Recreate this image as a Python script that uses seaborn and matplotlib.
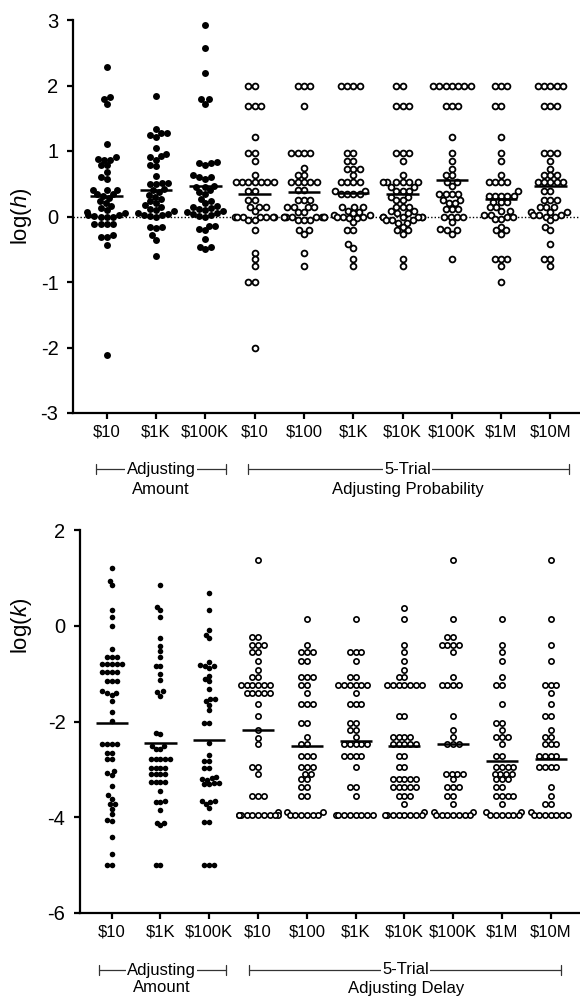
import warnings
import numpy as np
import pandas as pd
import seaborn as sns
import matplotlib.pyplot as plt
import matplotlib.transforms as mtransforms

warnings.filterwarnings('ignore')

# x tick labels
amount_labels = ['$10', '$1K', '$100K']
adjust_labels = ['$10', '$100', '$1K', '$10K', '$100K', '$1M', '$10M']

# ---- top panel: log(h) ----
h_amt_10 = [2.28, 1.82, 1.79, 1.71, 1.10, 0.91, 0.88, 0.87, 0.86, 0.78, 0.78, 0.68,
            0.60, 0.58, 0.41, 0.41, 0.41, 0.35, 0.35, 0.32, 0.28, 0.24, 0.20, 0.16,
            0.13, 0.10, 0.07, 0.05, 0.03, 0.02, 0.01, 0.00, 0.00, -0.01,
            -0.11, -0.11, -0.11, -0.11, -0.29, -0.31, -0.32, -0.43, -2.12]
h_amt_1k = [1.84, 1.33, 1.28, 1.27, 1.24, 1.22, 1.04, 0.96, 0.93, 0.91, 0.87, 0.78,
            0.77, 0.62, 0.51, 0.51, 0.50, 0.49, 0.42, 0.40, 0.37, 0.33, 0.30, 0.27,
            0.24, 0.21, 0.18, 0.15, 0.12, 0.10, 0.08, 0.06, 0.04, 0.03, 0.02, 0.01,
            0.00, -0.16, -0.17, -0.16, -0.29, -0.36, -0.60]
h_amt_100k = [2.92, 2.57, 2.19, 1.79, 1.79, 1.72, 0.83, 0.82, 0.81, 0.78, 0.63, 0.60,
              0.60, 0.58, 0.47, 0.45, 0.45, 0.40, 0.37, 0.35, 0.27, 0.24, 0.20, 0.16,
              0.14, 0.13, 0.12, 0.10, 0.08, 0.07, 0.05, 0.04, 0.02, 0.01, 0.00,
              -0.14, -0.14, -0.19, -0.21, -0.34, -0.46, -0.46, -0.50]

h_prob_10 = [2.0, 2.0, 1.68, 1.68, 1.68, 1.21, 0.97, 0.97, 0.84, 0.63, 0.52, 0.52,
             0.52, 0.52, 0.52, 0.52, 0.52, 0.39, 0.39, 0.25, 0.25, 0.14, 0.14, 0.14,
             0.08, 0.0, 0.0, 0.0, 0.0, 0.0, 0.0, 0.0, -0.05, -0.05, -0.21, -0.55,
             -0.65, -0.75, -1.0, -1.0, -2.0]
h_prob_100 = [2.0, 2.0, 2.0, 1.68, 0.97, 0.97, 0.97, 0.97, 0.74, 0.63, 0.63, 0.52,
              0.52, 0.52, 0.52, 0.52, 0.40, 0.40, 0.25, 0.25, 0.25, 0.14, 0.14, 0.14,
              0.14, 0.07, 0.07, 0.0, 0.0, 0.0, 0.0, 0.0, 0.0, 0.0, 0.0, -0.05, -0.05,
              -0.05, -0.20, -0.20, -0.26, -0.55, -0.75]
h_prob_1k = [2.0, 2.0, 2.0, 2.0, 0.97, 0.97, 0.84, 0.84, 0.73, 0.73, 0.73, 0.63,
             0.52, 0.52, 0.52, 0.52, 0.39, 0.39, 0.35, 0.35, 0.35, 0.35, 0.14, 0.14,
             0.14, 0.09, 0.07, 0.05, 0.02, 0.02, 0.0, 0.0, 0.0, -0.02, -0.02, -0.09,
             -0.21, -0.21, -0.42, -0.48, -0.65, -0.75]
h_prob_10k = [2.0, 2.0, 1.68, 1.68, 1.68, 0.97, 0.97, 0.97, 0.84, 0.63, 0.52, 0.52,
              0.52, 0.52, 0.52, 0.52, 0.45, 0.45, 0.39, 0.39, 0.39, 0.30, 0.30, 0.25,
              0.25, 0.14, 0.14, 0.14, 0.08, 0.08, 0.05, 0.05, 0.0, 0.0, 0.0, 0.0, 0.0,
              0.0, -0.05, -0.05, -0.05, -0.10, -0.10, -0.16, -0.21, -0.21, -0.26,
              -0.65, -0.75]
h_prob_100k = [2.0, 2.0, 2.0, 2.0, 2.0, 2.0, 2.0, 1.68, 1.68, 1.68, 1.21, 0.97, 0.84,
               0.73, 0.63, 0.63, 0.52, 0.52, 0.47, 0.35, 0.35, 0.35, 0.35, 0.25, 0.25,
               0.20, 0.20, 0.12, 0.12, 0.12, 0.0, 0.0, 0.0, 0.0, -0.09, -0.19, -0.21,
               -0.21, -0.26, -0.65]
h_prob_1m = [2.0, 2.0, 2.0, 1.68, 1.68, 1.21, 0.97, 0.84, 0.63, 0.52, 0.52, 0.52,
             0.52, 0.39, 0.32, 0.32, 0.32, 0.32, 0.32, 0.22, 0.22, 0.22, 0.14, 0.14,
             0.08, 0.08, 0.03, 0.03, 0.0, 0.0, -0.04, -0.04, -0.16, -0.21, -0.21,
             -0.26, -0.65, -0.65, -0.65, -0.75, -1.0]
h_prob_10m = [2.0, 2.0, 2.0, 2.0, 2.0, 1.68, 1.68, 1.68, 0.97, 0.97, 0.97, 0.84, 0.73,
              0.63, 0.63, 0.63, 0.52, 0.52, 0.52, 0.52, 0.52, 0.39, 0.39, 0.25, 0.25,
              0.25, 0.14, 0.14, 0.14, 0.07, 0.07, 0.07, 0.02, 0.02, 0.02, 0.0, 0.0,
              -0.06, -0.16, -0.21, -0.42, -0.65, -0.65, -0.75]

h_means = [0.32, 0.40, 0.47, 0.35, 0.37, 0.36, 0.34, 0.55, 0.27, 0.47]

# ---- bottom panel: log(k) ----
k_amt_10 = [1.20, 0.94, 0.85, 0.33, 0.19, 0.00, -0.49, -0.66, -0.66, -0.66, -0.79,
            -0.79, -0.79, -0.79, -0.79, -0.96, -0.96, -0.96, -0.96, -1.16, -1.16,
            -1.16, -1.37, -1.40, -1.40, -1.44, -1.58, -1.80, -1.99, -2.48, -2.48,
            -2.48, -2.48, -2.65, -2.65, -2.79, -2.79, -3.03, -3.08, -3.12, -3.35,
            -3.54, -3.61, -3.73, -3.73, -3.82, -3.94, -4.06, -4.08, -4.42, -4.76,
            -5.0, -5.0]
k_amt_1k = [0.85, 0.39, 0.33, 0.18, -0.26, -0.43, -0.53, -0.65, -0.85, -0.85, -1.0,
            -1.13, -1.37, -1.39, -1.46, -2.24, -2.27, -2.51, -2.51, -2.58, -2.58,
            -2.78, -2.78, -2.78, -2.78, -2.78, -2.97, -2.97, -2.97, -2.97, -3.10,
            -3.10, -3.10, -3.10, -3.26, -3.26, -3.26, -3.26, -3.45, -3.66, -3.68,
            -3.69, -3.85, -4.11, -4.11, -4.17, -5.0, -5.0]
k_amt_100k = [0.69, 0.32, -0.08, -0.19, -0.26, -0.76, -0.83, -0.85, -0.85, -0.88,
              -1.06, -1.11, -1.16, -1.33, -1.52, -1.54, -1.58, -1.65, -1.75, -2.04,
              -2.04, -2.44, -2.69, -2.83, -2.83, -2.97, -2.97, -3.15, -3.18, -3.20,
              -3.22, -3.28, -3.28, -3.30, -3.31, -3.66, -3.66, -3.68, -3.73, -3.80,
              -4.10, -4.10, -5.0, -5.0, -5.0]

k_del_10 = [1.37, -0.24, -0.24, -0.40, -0.40, -0.40, -0.55, -0.55, -0.73, -0.93,
            -1.08, -1.08, -1.23, -1.23, -1.23, -1.23, -1.23, -1.23, -1.40, -1.40,
            -1.40, -1.40, -1.40, -1.63, -1.88, -2.17, -2.34, -2.48, -2.95, -2.95,
            -3.10, -3.56, -3.56, -3.56, -3.90, -3.96, -3.96, -3.96, -3.96, -3.96,
            -3.96, -3.96, -3.96, -3.96, -3.96]
k_del_100 = [0.15, -0.40, -0.55, -0.55, -0.55, -0.73, -0.73, -1.08, -1.08, -1.08,
             -1.23, -1.23, -1.40, -1.63, -1.63, -1.63, -2.03, -2.03, -2.32, -2.48,
             -2.48, -2.72, -2.72, -2.72, -2.95, -2.95, -2.95, -3.10, -3.10, -3.21,
             -3.21, -3.36, -3.36, -3.56, -3.56, -3.90, -3.90, -3.96, -3.96, -3.96,
             -3.96, -3.96, -3.96]
k_del_1k = [0.15, -0.55, -0.55, -0.55, -0.73, -1.08, -1.08, -1.23, -1.23, -1.23,
            -1.23, -1.23, -1.23, -1.40, -1.63, -1.63, -1.63, -2.03, -2.03, -2.17,
            -2.17, -2.32, -2.48, -2.48, -2.48, -2.48, -2.48, -2.72, -2.72, -2.72,
            -2.72, -2.95, -3.36, -3.36, -3.56, -3.96, -3.96, -3.96, -3.96, -3.96,
            -3.96, -3.96, -3.96]
k_del_10k = [0.37, 0.15, -0.40, -0.55, -0.73, -0.93, -1.08, -1.08, -1.23, -1.23,
             -1.23, -1.23, -1.23, -1.23, -1.23, -1.88, -1.88, -2.32, -2.32, -2.32,
             -2.32, -2.48, -2.48, -2.48, -2.48, -2.48, -2.72, -2.72, -2.95, -2.95,
             -3.21, -3.21, -3.21, -3.21, -3.21, -3.36, -3.36, -3.36, -3.36, -3.36,
             -3.56, -3.56, -3.56, -3.73, -3.90, -3.96, -3.96, -3.96, -3.96, -3.96,
             -3.96, -3.96, -3.96]
k_del_100k = [1.37, 0.15, -0.24, -0.24, -0.40, -0.40, -0.40, -0.40, -0.55, -1.08,
              -1.23, -1.23, -1.23, -1.23, -1.88, -2.17, -2.32, -2.48, -2.48, -2.48,
              -3.10, -3.10, -3.10, -3.10, -3.21, -3.36, -3.36, -3.36, -3.56, -3.56,
              -3.73, -3.90, -3.90, -3.96, -3.96, -3.96, -3.96, -3.96, -3.96, -3.96]
k_del_1m = [0.15, -0.40, -0.55, -0.73, -1.08, -1.23, -1.23, -1.63, -2.03, -2.03,
            -2.17, -2.32, -2.32, -2.32, -2.48, -2.72, -2.72, -2.95, -2.95, -2.95,
            -2.95, -3.10, -3.10, -3.10, -3.10, -3.21, -3.21, -3.21, -3.36, -3.36,
            -3.56, -3.56, -3.56, -3.56, -3.73, -3.90, -3.90, -3.96, -3.96, -3.96,
            -3.96, -3.96, -3.96]
k_del_10m = [1.37, 0.15, -0.40, -0.73, -1.23, -1.23, -1.23, -1.40, -1.63, -1.88,
             -1.88, -2.17, -2.32, -2.32, -2.48, -2.48, -2.48, -2.72, -2.72, -2.72,
             -2.72, -2.95, -2.95, -2.95, -2.95, -3.36, -3.56, -3.73, -3.73, -3.90,
             -3.96, -3.96, -3.96, -3.96, -3.96, -3.96, -3.96]

k_means = [-2.03, -2.44, -2.39, -2.17, -2.51, -2.40, -2.51, -2.48, -2.83, -2.79]


sns.set_style('ticks')
plt.rcParams['font.family'] = ['Liberation Sans', 'DejaVu Sans']
plt.rcParams['mathtext.fontset'] = 'custom'
plt.rcParams['mathtext.rm'] = 'Liberation Sans'
plt.rcParams['mathtext.it'] = 'Liberation Sans:italic'
plt.rcParams['axes.unicode_minus'] = False
plt.rcParams['text.color'] = 'black'

# swarms are laid out with slightly smaller markers, then drawn full size,
# so crowded rows get squeezed together like in the original figure
swarm_colls = []


def long_table(groups, keys):
    rows = []
    for key, vals in zip(keys, groups):
        for v in vals:
            rows.append((key, v))
    return pd.DataFrame(rows, columns=['cond', 'value'])


def draw_panel(ax, filled, hollow, means, dot, circ, edge):
    keys_f = ['amt ' + s for s in amount_labels]
    keys_o = ['adj ' + s for s in adjust_labels]
    order = keys_f + keys_o
    n0 = len(ax.collections)
    sns.swarmplot(data=long_table(filled, keys_f), x='cond', y='value', order=order,
                  color='black', size=dot * 0.85, ax=ax, zorder=3)
    swarm_colls.extend((c, 0.85) for c in ax.collections[n0:])
    n0 = len(ax.collections)
    sns.swarmplot(data=long_table(hollow, keys_o), x='cond', y='value', order=order,
                  color='white', edgecolor='black', linewidth=edge, size=circ * 0.72,
                  ax=ax, zorder=3)
    swarm_colls.extend((c, 0.72) for c in ax.collections[n0:])
    pos = np.arange(len(order))
    ax.hlines(means, pos - 0.33, pos + 0.33, color='black', lw=1.8, zorder=5)
    ax.set_xticks(pos)
    ax.set_xticklabels(amount_labels + adjust_labels)
    ax.set_xlabel('')
    ax.set_ylabel('')
    sns.despine(ax=ax)
    for sp in ['left', 'bottom']:
        ax.spines[sp].set_linewidth(1.6)
        ax.spines[sp].set_color('black')
    ax.tick_params(axis='x', length=4.5, width=1.6, labelsize=12, pad=4, colors='black')
    ax.tick_params(axis='y', length=4.5, width=1.6, labelsize=14.5, pad=6, colors='black')


def bracket(fig, ax, x0, x1, xt, y, y2, line1, line2):
    tr = mtransforms.blended_transform_factory(ax.transData, fig.transFigure)
    ax.plot([x0, x1], [y, y], transform=tr, color='#333333', lw=0.9, clip_on=False)
    for xx in (x0, x1):
        ax.plot([xx, xx], [y - 0.0055, y + 0.0055], transform=tr, color='#333333',
                lw=0.9, clip_on=False)
    ax.text(xt, y, line1, transform=tr, ha='center', va='center', fontsize=12,
            bbox=dict(fc='white', ec='none', pad=0.8))
    ax.text(xt, y2, line2, transform=tr, ha='center', va='center', fontsize=12)


fig = plt.figure(figsize=(5.8, 9.98), dpi=100)
ax1 = fig.add_axes([73 / 580, 1 - 413 / 998, 507 / 580, 393 / 998])
ax2 = fig.add_axes([80 / 580, 1 - 913 / 998, 500 / 580, 383 / 998])

draw_panel(ax1, [h_amt_10, h_amt_1k, h_amt_100k],
           [h_prob_10, h_prob_100, h_prob_1k, h_prob_10k, h_prob_100k, h_prob_1m, h_prob_10m],
           h_means, dot=5.0, circ=4.2, edge=1.3)
ax1.axhline(0, color='black', lw=1.0, ls=(0, (1, 1.5)), zorder=1)
ax1.set_xlim(-0.684, 9.6)
ax1.set_ylim(-3, 3)
ax1.set_yticks([-3, -2, -1, 0, 1, 2, 3])

draw_panel(ax2, [k_amt_10, k_amt_1k, k_amt_100k],
           [k_del_10, k_del_100, k_del_1k, k_del_10k, k_del_100k, k_del_1m, k_del_10m],
           k_means, dot=4.0, circ=3.8, edge=1.2)
ax2.set_xlim(-0.65, 9.6)
ax2.set_ylim(-6, 2)
ax2.set_yticks([-6, -4, -2, 0, 2])

fig.text(21 / 580, 1 - 216 / 998, 'log($\\mathit{h}$)', rotation=90, ha='center',
         va='center', fontsize=16)
fig.text(21 / 580, 1 - 626 / 998, 'log($\\mathit{k}$)', rotation=90, ha='center',
         va='center', fontsize=16)

bracket(fig, ax1, -0.22, 2.41, 1.1, 1 - 469 / 998, 1 - 490 / 998, 'Adjusting', 'Amount')
bracket(fig, ax1, 2.87, 9.37, 6.1, 1 - 469 / 998, 1 - 490 / 998, '5-Trial',
        'Adjusting Probability')
bracket(fig, ax2, -0.26, 2.34, 1.02, 1 - 970 / 998, 1 - 988 / 998, 'Adjusting', 'Amount')
bracket(fig, ax2, 2.81, 9.22, 6.03, 1 - 970 / 998, 1 - 988 / 998, '5-Trial',
        'Adjusting Delay')

# run seaborn's beeswarm layout once, keep the positions, then enlarge markers
fig.canvas.draw()
for coll, shrink in swarm_colls:
    if 'draw' in vars(coll):
        del coll.draw
    coll.set_sizes(coll.get_sizes() / shrink ** 2)

fig.savefig('out.png', dpi=100)
